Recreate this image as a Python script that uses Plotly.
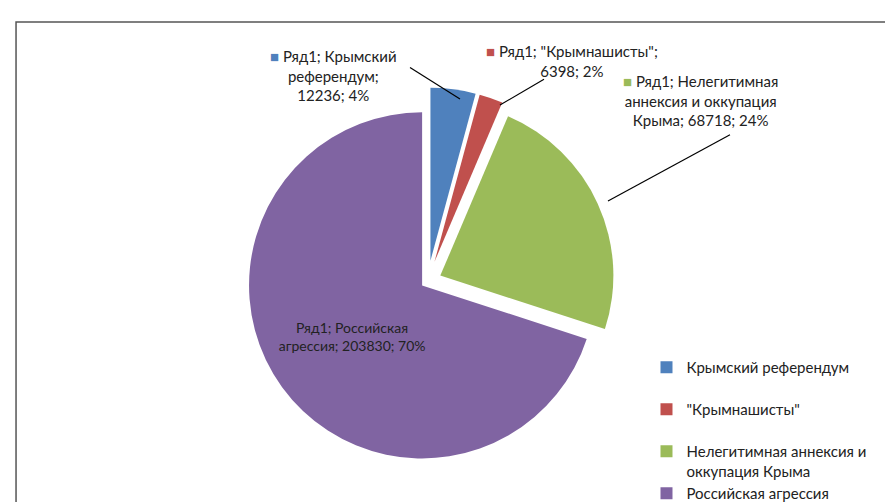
import plotly.graph_objects as go

categories = ["Крымский референдум", "\"Крымнашисты\"", "Нелегитимная аннексия и оккупация Крыма", "Российская агрессия"]
values = [12236, 6398, 68718, 203830]
series_name = "Ряд1"
colors = ["#4F81BD", "#C0504D", "#9BBB59", "#8064A2"]
legend_labels = ["Крымский референдум<br> ", "\"Крымнашисты\"<br> ", "Нелегитимная аннексия и<br>оккупация Крыма", "Российская агрессия"]
label_wrapped = ["Ряд1; Крымский<br>референдум;<br>{v}; {p}%",
                 "Ряд1; \"Крымнашисты\";<br>{v}; {p}%",
                 "Ряд1; Нелегитимная<br>аннексия и оккупация<br>Крыма; {v}; {p}%",
                 "Ряд1; Российская<br>агрессия; {v}; {p}%"]

total = sum(values)
pcts = [round(v / total * 100) for v in values]
texts = [t.format(v=v, p=p) for t, v, p in zip(label_wrapped, values, pcts)]

FONT = "Lato, Open Sans, sans-serif"
W, H = 893, 502

fig = go.Figure()
fig.add_trace(go.Pie(
    labels=legend_labels,
    values=values,
    sort=False,
    direction="clockwise",
    rotation=0,
    pull=[0.12, 0.12, 0.08, 0.04],
    marker=dict(colors=colors, line=dict(color="white", width=0)),
    text=[t if i == 3 else "" for i, t in enumerate(texts)],
    textinfo="text",
    textposition="inside",
    insidetextorientation="horizontal",
    textfont=dict(family=FONT, size=14, color="#222"),
    domain=dict(x=[0.22, 0.72], y=[0.06, 0.84]),
    hovertemplate="%{label}: %{value}<extra></extra>",
    showlegend=True,
))

# outside labels
ann_pos = [(0.365, 0.925), (0.632, 0.935), (0.865, 0.875)]
for i in range(3):
    x, y = ann_pos[i]
    fig.add_annotation(
        x=x, y=y, xref="paper", yref="paper",
        text=texts[i].replace(series_name, f"<span style='color:{colors[i]}'>■</span> " + series_name, 1),
        showarrow=False, align="center",
        font=dict(family=FONT, size=15, color="#222"),
    )

# leader lines (pixel coords -> paper)
leaders = [((402, 60), (452, 92)), ((536, 72), (492, 98)), ((722, 128), (600, 195))]
for (x0, y0), (x1, y1) in leaders:
    fig.add_shape(type="line", xref="paper", yref="paper",
                  x0=x0 / W, y0=1 - y0 / H, x1=x1 / W, y1=1 - y1 / H,
                  line=dict(color="black", width=1.2))

fig.add_shape(type="rect", xref="paper", yref="paper", x0=0.009, x1=1.2, y0=-0.1, y1=0.972,
              line=dict(color="#555", width=1.5), fillcolor="rgba(0,0,0,0)")

fig.update_layout(
    width=W, height=H,
    margin=dict(l=0, r=0, t=0, b=0),
    paper_bgcolor="white", plot_bgcolor="white",
    font=dict(family=FONT, size=14, color="#222"),
    legend=dict(x=0.715, y=0.31, xanchor="left", yanchor="top", valign="top",
                font=dict(family=FONT, size=15, color="#222"), itemwidth=30, traceorder="normal"),
)

fig.write_html("out.html")
